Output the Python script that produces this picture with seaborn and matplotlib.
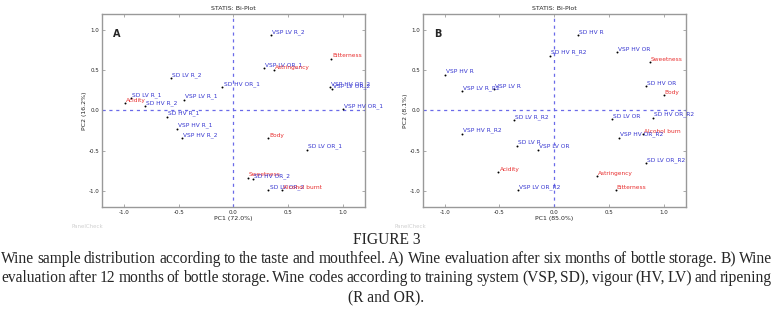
import matplotlib
matplotlib.use("Agg")
import matplotlib.pyplot as plt
import seaborn as sns
import pandas as pd

# Panel A - six months of bottle storage
labels_a = ["VSP LV R_2", "Bitterness", "VSP LV OR_1", "Astringency", "SD LV R_2",
            "SD HV OR_1", "VSP HV OR_2", "VSP LV OR_2", "SD LV R_1", "Acidity",
            "SD HV R_2", "VSP LV R_1", "VSP HV OR_1", "SD HV R_1", "VSP HV R_1",
            "VSP HV R_2", "Body", "SD LV OR_1", "Sweetness", "SD HV OR_2",
            "SD LV OR_2", "Alcohol burnt"]
pc1_a = [0.34, 0.89, 0.28, 0.37, -0.57, -0.10, 0.88, 0.90, -0.94, -0.99,
         -0.81, -0.45, 1.00, -0.61, -0.52, -0.47, 0.32, 0.67, 0.13, 0.18,
         0.32, 0.44]
pc2_a = [0.93, 0.64, 0.52, 0.50, 0.40, 0.29, 0.29, 0.26, 0.15, 0.09,
         0.05, 0.13, 0.01, -0.08, -0.23, -0.35, -0.35, -0.49, -0.84, -0.86,
         -0.99, -0.99]

# Panel B - 12 months of bottle storage
labels_b = ["SD HV R", "SD HV R_R2", "VSP HV OR", "Sweetness", "VSP HV R",
            "SD HV OR", "Body", "VSP LV R_R2", "VSP LV R", "SD LV R_R2",
            "SD LV OR", "SD HV OR_R2", "VSP HV R_R2", "Alcohol burn", "VSP HV OR_R2",
            "SD LV R", "VSP LV OR", "SD LV OR_R2", "Acidity", "Astringency",
            "VSP LV OR_R2", "Bitterness"]
pc1_b = [0.22, -0.04, 0.57, 0.87, -1.00, 0.84, 1.00, -0.84, -0.55, -0.37,
         0.53, 0.90, -0.84, 0.81, 0.59, -0.34, -0.15, 0.84, -0.51, 0.39,
         -0.33, 0.56]
pc2_b = [0.93, 0.68, 0.72, 0.60, 0.44, 0.30, 0.19, 0.24, 0.26, -0.12,
         -0.11, -0.09, -0.29, -0.30, -0.34, -0.44, -0.49, -0.66, -0.77, -0.82,
         -0.99, -0.99]

attributes = ["Bitterness", "Astringency", "Acidity", "Body", "Sweetness",
              "Alcohol burnt", "Alcohol burn"]

caption_title = "FIGURE 3"
caption_lines = [
    "Wine sample distribution according to the taste and mouthfeel. A) Wine evaluation after six months of bottle storage. B) Wine",
    "evaluation after 12 months of bottle storage. Wine codes according to training system (VSP, SD), vigour (HV, LV) and ripening",
]
caption_last = "(R and OR)."

sns.set_style("ticks")
plt.rcParams["font.family"] = ["DejaVu Sans"]

fig = plt.figure(figsize=(7.73, 3.12), dpi=100)


def biplot(rect, labels, xs, ys, letter, xlab, ylab):
    ax = fig.add_axes(rect)
    df = pd.DataFrame({"pc1": xs, "pc2": ys, "label": labels})
    ax.axhline(0, color="#6a6ae8", ls=(0, (2.5, 3)), lw=0.9, zorder=1)
    ax.axvline(0, color="#6a6ae8", ls=(0, (2.5, 3)), lw=0.9, zorder=1)
    sns.scatterplot(data=df, x="pc1", y="pc2", color="black", s=2,
                    linewidth=0, ax=ax, zorder=3)
    for _, r in df.iterrows():
        col = "#e83030" if r["label"] in attributes else "#3535d0"
        ax.text(r["pc1"] + 0.01, r["pc2"] + 0.005, r["label"], fontsize=4.2,
                color=col, va="bottom", ha="left", zorder=4)
    ax.set_xlim(-1.2, 1.2)
    ax.set_ylim(-1.2, 1.2)
    ticks = [-1.0, -0.5, 0.0, 0.5, 1.0]
    ax.set_xticks(ticks)
    ax.set_yticks(ticks)
    ax.set_xticklabels([f"{t:.1f}" for t in ticks])
    ax.set_yticklabels([f"{t:.1f}" for t in ticks])
    ax.tick_params(labelsize=4, length=2, width=0.5, color="#888888",
                   direction="in", top=True, right=True, pad=2)
    for sp in ax.spines.values():
        sp.set_color("#999999")
        sp.set_linewidth(1.0)
    ax.set_xlabel(xlab, fontsize=4.5, labelpad=1)
    ax.set_ylabel(ylab, fontsize=4.5, labelpad=1)
    ax.set_title("STATIS: Bi-Plot", fontsize=4.5, pad=2.5)
    ax.text(-1.1, 0.95, letter, fontsize=7, fontweight="bold", va="center")
    return ax


ax_a = biplot([0.132, 0.337, 0.340, 0.619], labels_a, pc1_a, pc2_a, "A",
              "PC1 (72.0%)", "PC2 (16.2%)")
ax_b = biplot([0.547, 0.337, 0.340, 0.619], labels_b, pc1_b, pc2_b, "B",
              "PC1 (85.0%)", "PC2 (8.1%)")

fig.text(0.093, 1 - 227 / 312, "PanelCheck", fontsize=4, color="#d0d0d0",
         va="center")
fig.text(0.51, 1 - 227 / 312, "PanelCheck", fontsize=4, color="#d0d0d0",
         va="center")

serif = ["Liberation Serif", "DejaVu Serif"]
fs = 11.2
fig.text(0.5, 1 - 240 / 312, caption_title, fontsize=fs, family=serif,
         ha="center", va="center")

# justified caption lines
fig.canvas.draw()
renderer = fig.canvas.get_renderer()
left, right = 1 / 773, 772 / 773
for i, line in enumerate(caption_lines):
    y = 1 - (259 + i * 19) / 312
    words = line.split(" ")
    items = [fig.text(0, y, w, fontsize=fs, family=serif, va="center")
             for w in words]
    widths = [t.get_window_extent(renderer).width / 773 for t in items]
    gap = (right - left - sum(widths)) / (len(words) - 1)
    x = left
    for t, w in zip(items, widths):
        t.set_x(x)
        x += w + gap
fig.text(0.5, 1 - 297 / 312, caption_last, fontsize=fs, family=serif,
         ha="center", va="center")

fig.savefig("out.png", dpi=100)
